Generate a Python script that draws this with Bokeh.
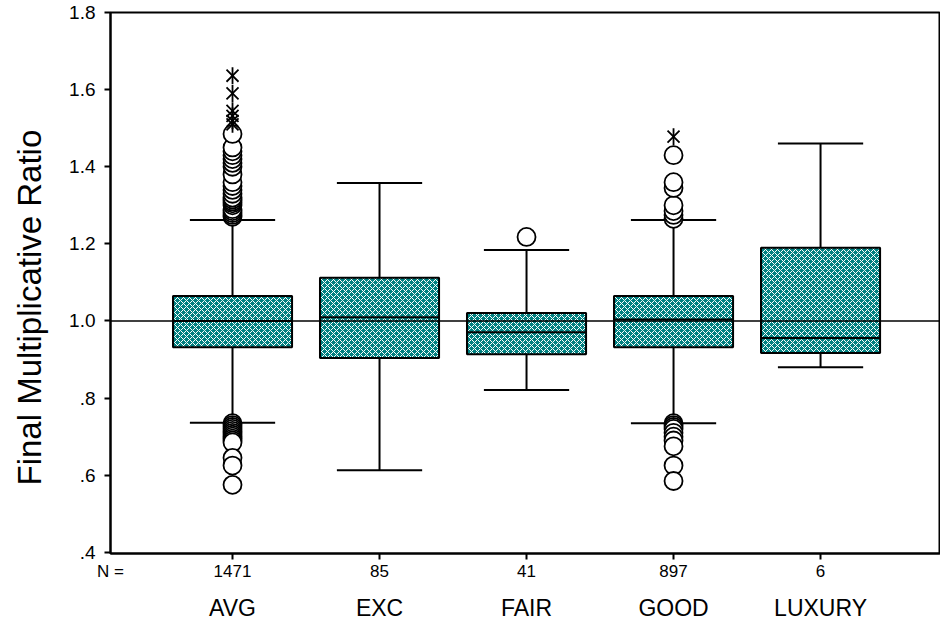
import numpy as np
from bokeh.plotting import figure
from bokeh.models import (Range1d, FixedTicker, LinearAxis, Span, Title, ColumnDataSource)
from bokeh.embed import file_html
from bokeh.resources import INLINE

# ---------------- data ----------------
categories = ["AVG", "EXC", "FAIR", "GOOD", "LUXURY"]
counts = ["1471", "85", "41", "897", "6"]
q1 = [0.932, 0.904, 0.914, 0.932, 0.917]
median = [1.000, 1.010, 0.971, 1.004, 0.956]
q3 = [1.065, 1.112, 1.021, 1.065, 1.190]
lower_whisker = [0.736, 0.613, 0.821, 0.735, 0.880]
upper_whisker = [1.262, 1.358, 1.184, 1.262, 1.460]

avg_outliers = [1.27, 1.275, 1.28, 1.285, 1.29, 1.30, 1.305, 1.31, 1.315, 1.32, 1.33,
                1.34, 1.35, 1.36, 1.38, 1.40, 1.41, 1.42, 1.43, 1.44, 1.45, 1.485,
                0.735, 0.73, 0.725, 0.72, 0.715, 0.71, 0.705, 0.70, 0.695, 0.69,
                0.685, 0.645, 0.625, 0.575]
exc_outliers = []
fair_outliers = [1.218]
good_outliers = [1.265, 1.275, 1.285, 1.30, 1.345, 1.36, 1.43,
                 0.735, 0.73, 0.725, 0.72, 0.71, 0.70, 0.69, 0.675, 0.625, 0.585]
luxury_outliers = []

avg_extremes = [1.636, 1.59, 1.545, 1.532, 1.519, 1.51]
good_extremes = [1.478]

outliers = [avg_outliers, exc_outliers, fair_outliers, good_outliers, luxury_outliers]
extremes = [avg_extremes, [], [], good_extremes, []]

y_ticks = [0.4, 0.6, 0.8, 1.0, 1.2, 1.4, 1.6, 1.8]
y_tick_labels = [".4", ".6", ".8", "1.0", "1.2", "1.4", "1.6", "1.8"]
n_label = "N ="
y_title = "Final Multiplicative Ratio"

# ---------------- figure ----------------
FONT = "Liberation Sans"
pos = list(range(1, len(categories) + 1))
box_w = 0.81
cap_w = 0.58
x_start, x_end = 0.17, 5.816

p = figure(width=940, height=624, output_backend="svg", toolbar_location=None,
           x_range=Range1d(x_start, x_end), y_range=Range1d(0.397, 1.8),
           x_axis_location=None, min_border_left=110, min_border_right=0,
           min_border_top=12, min_border_bottom=71)
p.grid.visible = False
p.background_fill_color = "white"
p.border_fill_color = "white"
p.outline_line_color = "black"
p.outline_line_width = 2

# y axis
ya = p.yaxis[0]
ya.ticker = FixedTicker(ticks=y_ticks)
ya.major_label_overrides = {t: l for t, l in zip(y_ticks, y_tick_labels)}
ya.major_label_text_font = FONT
ya.major_label_text_font_size = "19px"
ya.major_label_text_color = "black"
ya.major_label_standoff = 9
ya.major_tick_out = 6
ya.major_tick_in = 0
ya.minor_tick_line_color = None
ya.axis_line_width = 2
ya.major_tick_line_width = 2
ya.axis_line_color = "black"
ya.major_tick_line_color = "black"
# invisible spacer label to push the title further left
ya.axis_label = " "
ya.axis_label_text_font_size = "1px"
ya.axis_label_standoff = 14

# y title placed to the left of the axis
p.add_layout(Title(text=y_title, align="left", offset=68, standoff=0,
                   text_font=FONT, text_font_size="33px", text_font_style="normal",
                   text_color="black"), "left")

# bottom axis: line + ticks only
xa = LinearAxis(ticker=FixedTicker(ticks=pos))
xa.major_label_overrides = {i: "" for i in pos}
xa.major_label_text_font_size = "1px"
xa.major_label_standoff = 0
xa.major_tick_out = 6
xa.major_tick_in = 0
xa.minor_tick_line_color = None
xa.axis_line_width = 2
xa.major_tick_line_width = 2
p.add_layout(xa, "below")

# counts row (with "N =" at the left edge)
cnt_ticks = [x_start] + pos
xc = LinearAxis(ticker=FixedTicker(ticks=cnt_ticks))
xc.major_label_overrides = dict(zip(cnt_ticks, [n_label] + counts))
xc.major_label_text_font = FONT
xc.major_label_text_font_size = "17px"
xc.major_label_text_color = "black"
xc.major_label_standoff = 2
xc.major_tick_out = 0
xc.major_tick_in = 0
xc.major_tick_line_color = None
xc.minor_tick_line_color = None
xc.axis_line_color = None
p.add_layout(xc, "below")

# category name row
xn = LinearAxis(ticker=FixedTicker(ticks=pos))
xn.major_label_overrides = dict(zip(pos, categories))
xn.major_label_text_font = FONT
xn.major_label_text_font_size = "23px"
xn.major_label_text_color = "black"
xn.major_label_standoff = 11
xn.major_tick_out = 0
xn.major_tick_in = 0
xn.major_tick_line_color = None
xn.minor_tick_line_color = None
xn.axis_line_color = None
p.add_layout(xn, "below")

# boxes
src = ColumnDataSource(dict(x=pos, q1=q1, q3=q3, med=median,
                            lw=lower_whisker, uw=upper_whisker,
                            x0=[x - box_w / 2 for x in pos], x1=[x + box_w / 2 for x in pos],
                            c0=[x - cap_w / 2 for x in pos], c1=[x + cap_w / 2 for x in pos]))

p.segment(x0="x", y0="q3", x1="x", y1="uw", source=src, line_color="black", line_width=2)
p.segment(x0="x", y0="q1", x1="x", y1="lw", source=src, line_color="black", line_width=2)
p.segment(x0="c0", y0="uw", x1="c1", y1="uw", source=src, line_color="black", line_width=2)
p.segment(x0="c0", y0="lw", x1="c1", y1="lw", source=src, line_color="black", line_width=2)

p.vbar(x="x", width=box_w, bottom="q1", top="q3", source=src,
       fill_color="#008080", hatch_pattern="diagonal_cross", hatch_color="white",
       hatch_scale=6, hatch_weight=1, line_color="black", line_width=2)
p.segment(x0="x0", y0="med", x1="x1", y1="med", source=src, line_color="black", line_width=2)

# outliers
ox, oy = [], []
for x, vals in zip(pos, outliers):
    ox += [x] * len(vals)
    oy += vals
p.scatter(ox, oy, marker="circle", size=18, fill_color="white", line_color="black", line_width=1.8)

ex, ey = [], []
for x, vals in zip(pos, extremes):
    ex += [x] * len(vals)
    ey += vals
p.scatter(ex, ey, marker="x", size=17, line_color="black", line_width=1.8)
p.scatter(ex, ey, marker="dash", size=17, angle=np.pi / 2, line_color="black", line_width=1.8)

# reference line at 1.0
p.add_layout(Span(location=1.0, dimension="width", line_color="black", line_width=1.5))

open("out.html", "w").write(file_html(p, INLINE))
